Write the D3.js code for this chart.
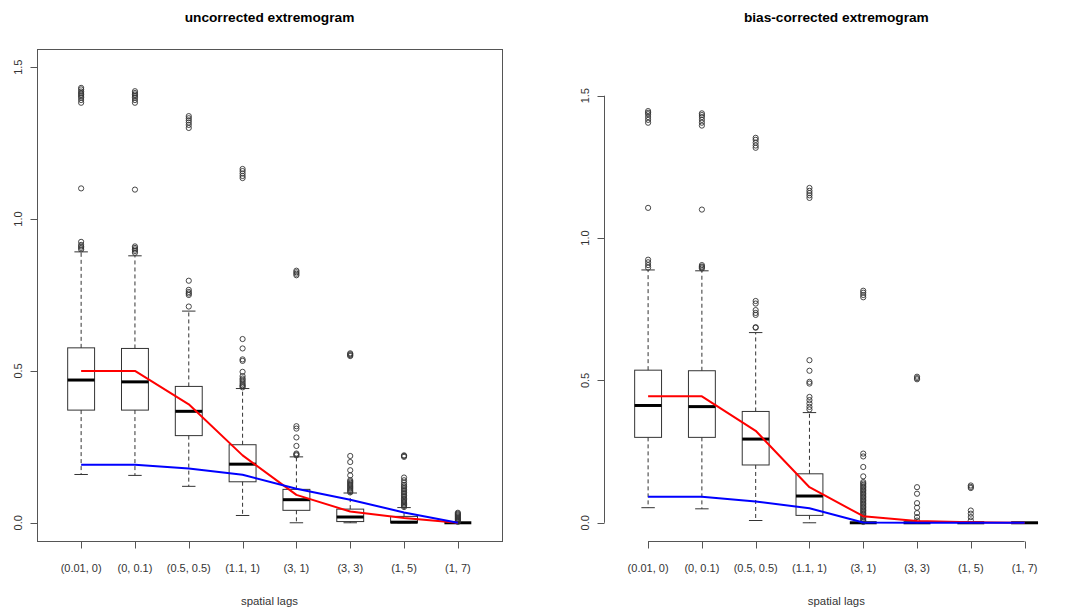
<!DOCTYPE html>
<html>
<head>
<meta charset="utf-8">
<script src="https://cdn.jsdelivr.net/npm/d3@7/dist/d3.min.js"></script>
<style>
  html, body { margin: 0; padding: 0; background: #fff; overflow: hidden; }
  svg { display: block; }
  text { font-family: "Liberation Sans", Arial, sans-serif; }
</style>
</head>
<body>
<svg id="chart" width="1080" height="614"></svg>
<script>
// ---------- data ----------
const categories = ["(0.01, 0)", "(0, 0.1)", "(0.5, 0.5)", "(1.1, 1)", "(3, 1)", "(3, 3)", "(1, 5)", "(1, 7)"];
const yTicks = [0, 0.5, 1.0, 1.5];
const yTickLabels = ["0.0", "0.5", "1.0", "1.5"];

// uncorrected extremogram
const lowU  = [0.159, 0.156, 0.120, 0.024, 0.000, 0.000, 0.000, 0.000];
const q1U   = [0.371, 0.371, 0.287, 0.135, 0.041, 0.004, 0.000, 0.000];
const medU  = [0.470, 0.464, 0.367, 0.193, 0.076, 0.019, 0.002, 0.000];
const q3U   = [0.576, 0.574, 0.449, 0.257, 0.110, 0.045, 0.021, 0.000];
const highU = [0.892, 0.879, 0.697, 0.442, 0.217, 0.098, 0.050, 0.000];
const outU = [
  [0.900, 0.905, 0.910, 0.915, 0.925, 1.101, 1.383, 1.392, 1.400, 1.405, 1.410, 1.415, 1.420, 1.427, 1.432],
  [0.889, 0.895, 0.900, 0.905, 0.910, 1.097, 1.383, 1.392, 1.400, 1.405, 1.410, 1.415, 1.421],
  [0.712, 0.750, 0.755, 0.760, 0.767, 0.797, 1.300, 1.310, 1.318, 1.325, 1.332, 1.339],
  [0.446, 0.450, 0.453, 0.458, 0.464, 0.470, 0.475, 0.483, 0.497, 0.533, 0.538, 0.574, 0.605, 1.135, 1.142, 1.150, 1.158, 1.165],
  [0.222, 0.225, 0.228, 0.253, 0.281, 0.310, 0.318, 0.815, 0.820, 0.825, 0.830],
  [0.100, 0.104, 0.108, 0.112, 0.116, 0.120, 0.124, 0.128, 0.132, 0.136, 0.140, 0.156, 0.173, 0.200, 0.220, 0.549, 0.552, 0.555, 0.558],
  [0.052, 0.056, 0.060, 0.064, 0.068, 0.072, 0.076, 0.080, 0.085, 0.090, 0.095, 0.100, 0.105, 0.110, 0.115, 0.120, 0.125, 0.132, 0.140, 0.149, 0.217, 0.220, 0.222],
  [0.003, 0.006, 0.009, 0.012, 0.015, 0.018, 0.021, 0.024, 0.027, 0.030, 0.033]
];
const redU  = [0.500, 0.500, 0.390, 0.222, 0.092, 0.037, 0.016, 0.000];
const blueU = [0.191, 0.191, 0.179, 0.158, 0.112, 0.076, 0.034, 0.000];

// bias-corrected extremogram
const lowC  = [0.053, 0.049, 0.008, 0.000, 0.000, 0.000, 0.000, 0.000];
const q1C   = [0.300, 0.300, 0.203, 0.026, 0.000, 0.000, 0.000, 0.000];
const medC  = [0.412, 0.408, 0.294, 0.094, 0.000, 0.000, 0.000, 0.000];
const q3C   = [0.536, 0.534, 0.391, 0.172, 0.000, 0.000, 0.000, 0.000];
const highC = [0.888, 0.885, 0.668, 0.387, 0.000, 0.000, 0.000, 0.000];
const outC = [
  [0.896, 0.905, 0.915, 0.924, 1.106, 1.405, 1.415, 1.425, 1.435, 1.440, 1.446],
  [0.893, 0.897, 0.900, 0.905, 1.100, 1.395, 1.405, 1.415, 1.425, 1.432, 1.438],
  [0.685, 0.687, 0.730, 0.737, 0.747, 0.770, 0.779, 1.317, 1.325, 1.335, 1.345, 1.352],
  [0.398, 0.407, 0.419, 0.431, 0.442, 0.489, 0.495, 0.534, 0.571, 1.141, 1.150, 1.158, 1.166, 1.176],
  [0.003, 0.008, 0.013, 0.018, 0.023, 0.028, 0.033, 0.038, 0.043, 0.048, 0.053, 0.058, 0.063, 0.068, 0.073, 0.078, 0.083, 0.088, 0.093, 0.098, 0.103, 0.108, 0.113, 0.118, 0.123, 0.128, 0.133, 0.138, 0.143, 0.163, 0.196, 0.233, 0.243, 0.792, 0.800, 0.808, 0.815],
  [0.008, 0.020, 0.034, 0.053, 0.069, 0.102, 0.125, 0.504, 0.508, 0.513],
  [0.008, 0.020, 0.032, 0.043, 0.122, 0.126, 0.131],
  []
];
const redC  = [0.444, 0.444, 0.323, 0.125, 0.023, 0.006, 0.002, 0.000];
const blueC = [0.0915, 0.091, 0.075, 0.051, 0.001, 0.000, 0.000, 0.000];

// ---------- drawing ----------
const svg = d3.select("#chart");
const FRAME = "#555";
const INK = "#333";

function panel(opts) {
  const { left, right, top, bottom, frameRight, yMax, title, low, q1, med, q3, high, out, red, blue } = opts;
  const x = d3.scaleLinear().domain([0.18, 8.82]).range([left, right]);
  const yMin = -0.04 * yMax;
  const y = d3.scaleLinear().domain([yMin, yMax * 1.04]).range([bottom, top]);
  const g = svg.append("g");
  const idx = d3.range(categories.length);
  const halfW = 0.25, stapleHalf = 0.125;

  // whiskers (dashed)
  g.selectAll(".wu").data(idx).join("line")
    .attr("x1", i => x(i + 1)).attr("x2", i => x(i + 1))
    .attr("y1", i => y(q3[i])).attr("y2", i => y(high[i]))
    .attr("stroke", INK).attr("stroke-width", 1).attr("stroke-dasharray", "4,3");
  g.selectAll(".wl").data(idx).join("line")
    .attr("x1", i => x(i + 1)).attr("x2", i => x(i + 1))
    .attr("y1", i => y(q1[i])).attr("y2", i => y(low[i]))
    .attr("stroke", INK).attr("stroke-width", 1).attr("stroke-dasharray", "4,3");
  // staples
  [high, low].forEach(arr => {
    g.selectAll(null).data(idx).join("line")
      .attr("x1", i => x(i + 1 - stapleHalf)).attr("x2", i => x(i + 1 + stapleHalf))
      .attr("y1", i => y(arr[i])).attr("y2", i => y(arr[i]))
      .attr("stroke", INK).attr("stroke-width", 1);
  });
  // boxes
  g.selectAll(".box").data(idx).join("rect")
    .attr("x", i => x(i + 1 - halfW)).attr("width", i => x(i + 1 + halfW) - x(i + 1 - halfW))
    .attr("y", i => y(q3[i])).attr("height", i => Math.max(0, y(q1[i]) - y(q3[i])))
    .attr("fill", "none").attr("stroke", INK).attr("stroke-width", 1);
  // medians
  g.selectAll(".med").data(idx).join("line")
    .attr("x1", i => x(i + 1 - halfW)).attr("x2", i => x(i + 1 + halfW))
    .attr("y1", i => y(med[i])).attr("y2", i => y(med[i]))
    .attr("stroke", "#000").attr("stroke-width", 3);
  // outliers
  const pts = [];
  out.forEach((arr, i) => arr.forEach(v => pts.push({ i, v })));
  g.selectAll(".out").data(pts).join("circle")
    .attr("cx", d => x(d.i + 1)).attr("cy", d => y(d.v)).attr("r", 2.6)
    .attr("fill", "none").attr("stroke", INK).attr("stroke-width", 0.9);

  // lines
  const line = d3.line().x((d, i) => x(i + 1)).y(d => y(d));
  g.append("path").datum(red).attr("d", line).attr("fill", "none")
    .attr("stroke", "#ff0000").attr("stroke-width", 2).attr("stroke-linejoin", "round");
  g.append("path").datum(blue).attr("d", line).attr("fill", "none")
    .attr("stroke", "#0000ff").attr("stroke-width", 2).attr("stroke-linejoin", "round");

  // frame
  g.append("rect").attr("x", left + 0.5).attr("y", top + 0.5)
    .attr("width", frameRight - left).attr("height", bottom - top)
    .attr("fill", "none").attr("stroke", FRAME).attr("stroke-width", 1);

  // x axis
  const xAxis = g.append("g").attr("transform", `translate(0,${bottom + 0.5})`);
  xAxis.append("line").attr("x1", x(1)).attr("x2", x(8)).attr("stroke", FRAME);
  xAxis.selectAll(".xt").data(idx).join("line")
    .attr("x1", i => Math.round(x(i + 1)) + 0.5).attr("x2", i => Math.round(x(i + 1)) + 0.5)
    .attr("y1", 0).attr("y2", 7).attr("stroke", FRAME);
  xAxis.selectAll(".xl").data(idx).join("text")
    .attr("x", i => x(i + 1)).attr("y", 30)
    .attr("text-anchor", "middle").attr("font-size", 11).attr("fill", INK)
    .text(i => categories[i]);

  // y axis
  const yAxis = g.append("g").attr("transform", `translate(${left + 0.5},0)`);
  yAxis.append("line").attr("y1", y(0)).attr("y2", y(1.5)).attr("stroke", FRAME);
  yAxis.selectAll(".yt").data(yTicks).join("line")
    .attr("x1", -7).attr("x2", 0)
    .attr("y1", d => Math.round(y(d)) + 0.5).attr("y2", d => Math.round(y(d)) + 0.5)
    .attr("stroke", FRAME);
  yAxis.selectAll(".yl").data(yTicks).join("text")
    .attr("transform", d => `translate(-16,${y(d)}) rotate(-90)`)
    .attr("text-anchor", "middle").attr("font-size", 11).attr("fill", INK)
    .text((d, i) => yTickLabels[i]);

  // titles
  const cx = (left + right) / 2;
  g.append("text").attr("x", cx).attr("y", 22).attr("text-anchor", "middle")
    .attr("font-size", 13.7).attr("font-weight", "bold").attr("fill", "#000").text(title);
  g.append("text").attr("x", cx).attr("y", 605).attr("text-anchor", "middle")
    .attr("font-size", 11.4).attr("fill", INK).text("spatial lags");
}

panel({ left: 37, right: 502, frameRight: 502, top: 49, bottom: 541, yMax: 1.5,
        title: "uncorrected extremogram",
        low: lowU, q1: q1U, med: medU, q3: q3U, high: highU, out: outU, red: redU, blue: blueU });
panel({ left: 604, right: 1068.7, frameRight: 490, top: 49, bottom: 541, yMax: 1.6,
        title: "bias-corrected extremogram",
        low: lowC, q1: q1C, med: medC, q3: q3C, high: highC, out: outC, red: redC, blue: blueC });
</script>
</body>
</html>
